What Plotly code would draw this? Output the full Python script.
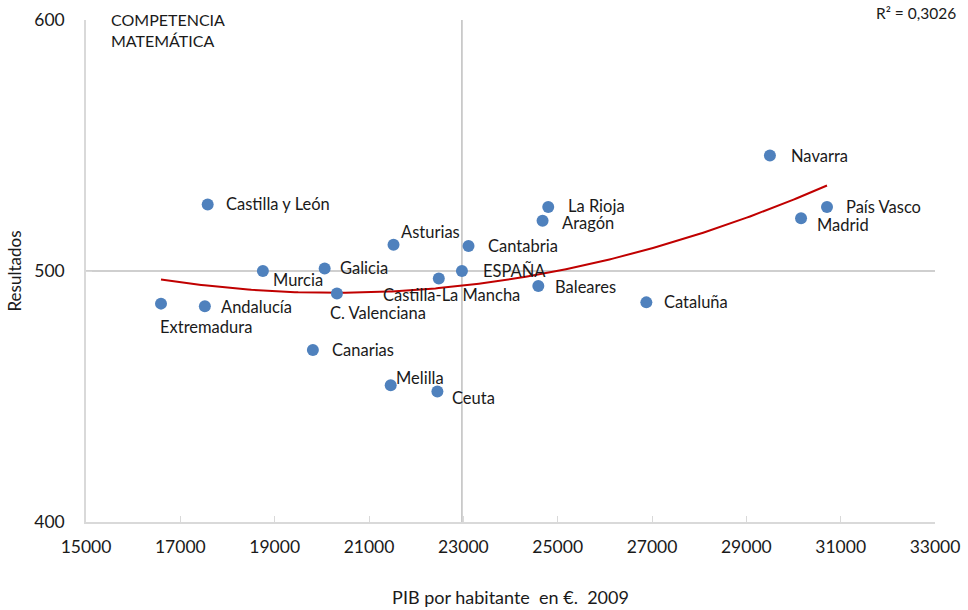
import numpy as np
import plotly.graph_objects as go

# Comunidades autónomas: PIB por habitante 2009 vs resultado en competencia matemática
regiones = ["Navarra", "País Vasco", "Madrid", "La Rioja", "Aragón", "Castilla y León",
            "Asturias", "Cantabria", "Galicia", "Murcia", "ESPAÑA", "Castilla-La Mancha",
            "Baleares", "C. Valenciana", "Extremadura", "Andalucía", "Cataluña",
            "Canarias", "Melilla", "Ceuta"]
pib = [29500, 30710, 30160, 24800, 24680, 17580, 21520, 23110, 20060, 18750, 22970,
       22480, 24590, 20320, 16590, 17520, 26880, 19810, 21460, 22450]
resultados = [546, 525.5, 521, 525.5, 520, 526.5, 510.5, 510, 501, 500, 500, 497,
              494, 491, 487, 486, 487.5, 468.5, 454.5, 452]

x_ticks = list(range(15000, 33001, 2000))
y_ticks = [400, 500, 600]
r2_text = "R² = 0,3026"

# desplazamiento de etiquetas (px): (x, y)
offsets = {
    "Navarra": (19, 0), "País Vasco": (17, 0), "Madrid": (14, -7), "La Rioja": (18, 1),
    "Aragón": (17, -2), "Castilla y León": (16, 0), "Asturias": (5, 13),
    "Cantabria": (17, 0), "Galicia": (13, 0), "Murcia": (8, -9), "ESPAÑA": (19, 0),
    "Castilla-La Mancha": (-58, -16), "Baleares": (15, -1), "C. Valenciana": (-9, -19),
    "Extremadura": (-3, -23), "Andalucía": (14, -1), "Cataluña": (16, 0),
    "Canarias": (17, 0), "Melilla": (3, 7), "Ceuta": (13, -7),
}

FONT = "Lato"
TXT = "#1a1a1a"
espana_x = pib[regiones.index("ESPAÑA")]
espana_y = resultados[regiones.index("ESPAÑA")]

# línea de tendencia polinómica (orden 2)
coef = np.polyfit(pib, resultados, 2)
xt = np.linspace(min(pib), max(pib), 200)
yt = np.polyval(coef, xt)

fig = go.Figure()

# líneas de referencia (España)
fig.add_trace(go.Scatter(x=[15000, 33000], y=[espana_y, espana_y], mode="lines",
                         line=dict(color="#bfbfbf", width=1.5), hoverinfo="skip",
                         showlegend=False))
fig.add_trace(go.Scatter(x=[espana_x, espana_x], y=[400, 600], mode="lines",
                         line=dict(color="#bfbfbf", width=1.5), hoverinfo="skip",
                         showlegend=False))

fig.add_trace(go.Scatter(x=xt, y=yt, mode="lines", line=dict(color="#c00000", width=2),
                         hoverinfo="skip", showlegend=False))

fig.add_trace(go.Scatter(x=pib, y=resultados, mode="markers", text=regiones,
                         marker=dict(color="#4f81bd", size=12), showlegend=False))

for name, xv, yv in zip(regiones, pib, resultados):
    dx, dy = offsets[name]
    fig.add_annotation(x=xv, y=yv, text=name, showarrow=False, xanchor="left",
                       yanchor="middle", xshift=dx, yshift=dy,
                       font=dict(family=FONT, size=16.5, color=TXT))

fig.add_annotation(xref="paper", yref="paper", x=0, y=1, xanchor="left", yanchor="top",
                   xshift=23, yshift=12, align="left", showarrow=False,
                   text="COMPETENCIA<br>MATEMÁTICA",
                   font=dict(family=FONT, size=16, color=TXT))
fig.add_annotation(xref="paper", yref="paper", x=1, y=1, xanchor="right",
                   yanchor="middle", xshift=23, yshift=7, showarrow=False, text=r2_text,
                   font=dict(family=FONT, size=15.5, color=TXT))

fig.update_xaxes(range=[15000, 33000], tickvals=x_ticks, tickformat="d", ticks="inside",
                 ticklen=6, tickcolor="#d9d9d9", showline=True, linecolor="#d9d9d9",
                 linewidth=1.5, showgrid=False, zeroline=False, automargin=False,
                 ticklabelstandoff=8,
                 tickfont=dict(family=FONT, size=17.5, color=TXT),
                 title=dict(text="PIB por habitante  en €.  2009",
                            font=dict(family=FONT, size=18, color=TXT),
                            standoff=36))
fig.update_yaxes(range=[400, 600], tickvals=y_ticks, ticks="inside", ticklen=6,
                 tickcolor="#d9d9d9", showline=True, linecolor="#d9d9d9", linewidth=1.5,
                 showgrid=False, zeroline=False, ticklabelstandoff=16, automargin=False,
                 tickfont=dict(family=FONT, size=17.5, color=TXT),
                 title=dict(text="Resultados",
                            font=dict(family=FONT, size=17, color=TXT),
                            standoff=8))

fig.update_layout(width=968, height=610, plot_bgcolor="white", paper_bgcolor="white",
                  margin=dict(l=86, r=33, t=20, b=88), font=dict(family=FONT))

fig.write_html("out.html", config={"displayModeBar": False},
               post_script="document.body.style.margin='0';")
